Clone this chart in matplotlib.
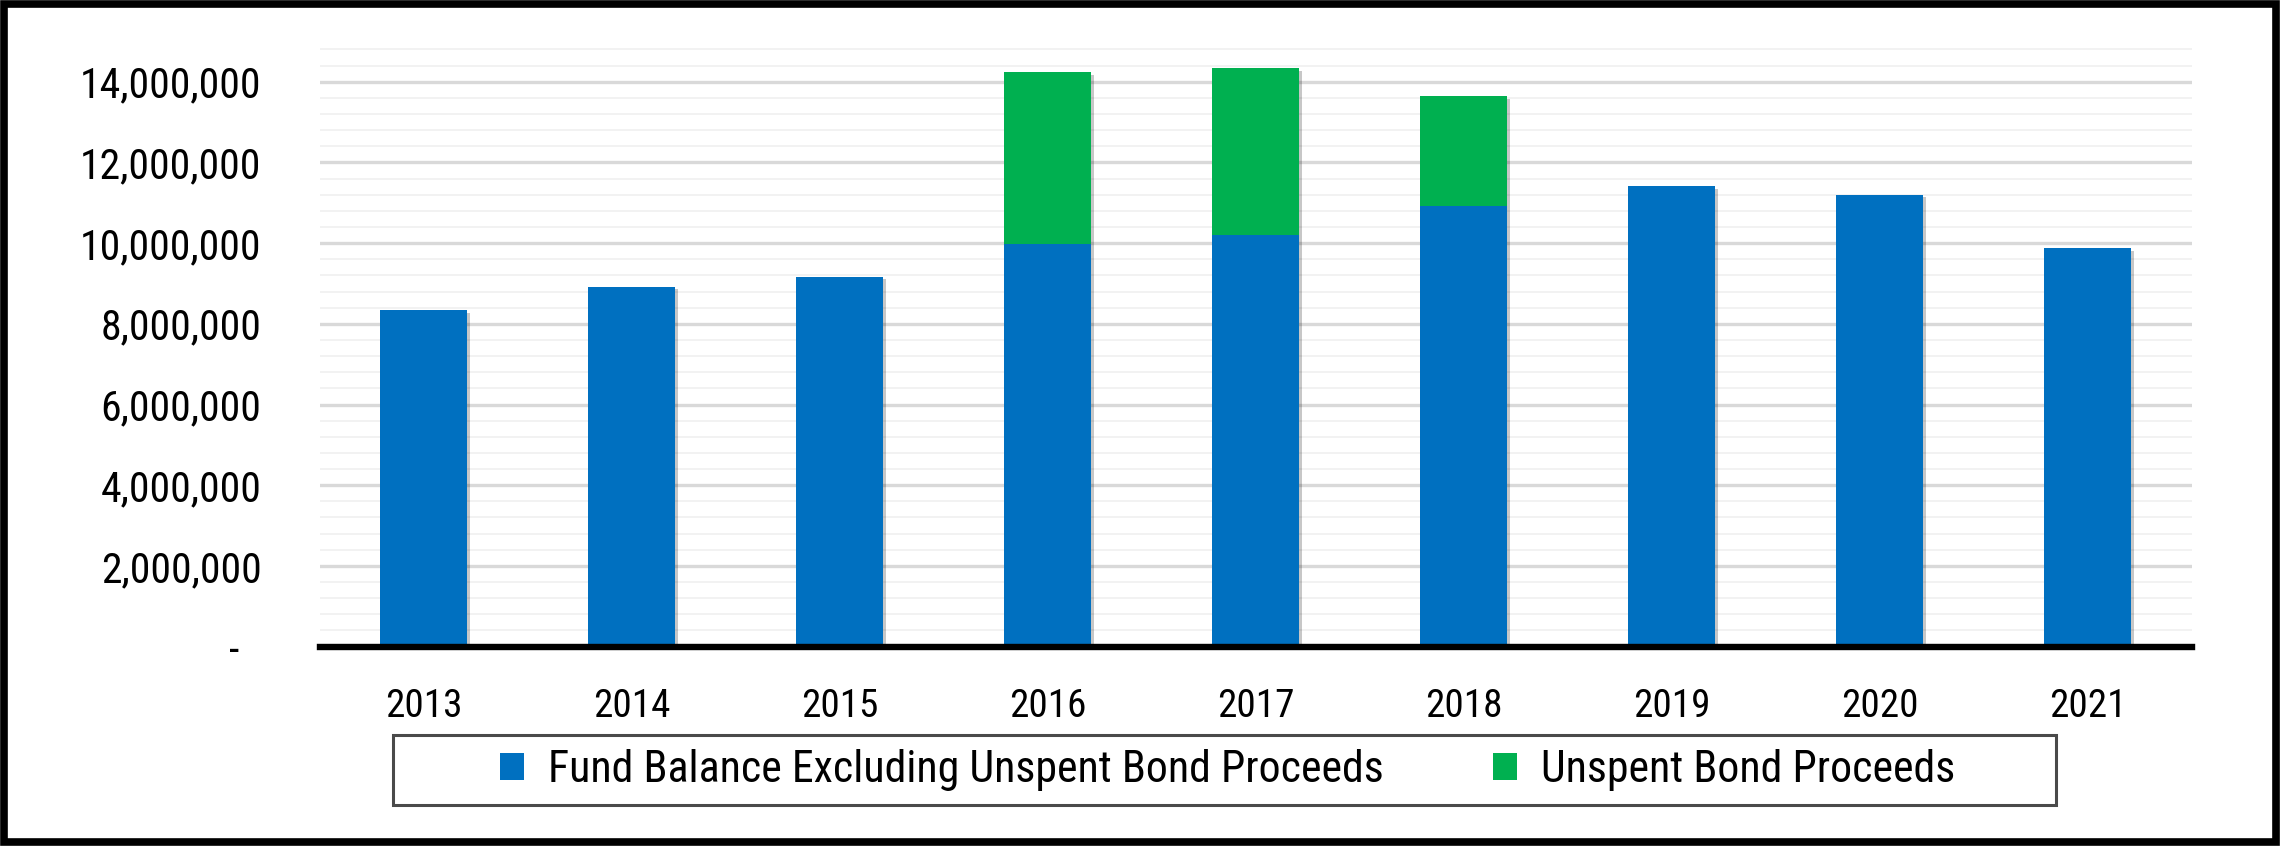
import matplotlib
matplotlib.use('Agg')
import matplotlib.pyplot as plt
from matplotlib import font_manager
from matplotlib.font_manager import FontProperties
from matplotlib.textpath import TextPath
from matplotlib.patches import Rectangle, Patch
from matplotlib.transforms import ScaledTranslation
import matplotlib.patheffects as pe
import numpy as np

# ---------------- data ----------------
years = ['2013', '2014', '2015', '2016', '2017', '2018', '2019', '2020', '2021']
fund_balance = [8.34e6, 8.92e6, 9.17e6, 9.97e6, 10.20e6, 10.92e6, 11.41e6, 11.20e6, 9.87e6]
unspent_bond = [0, 0, 0, 4.26e6, 4.14e6, 2.72e6, 0, 0, 0]
y_ticks = [0, 2e6, 4e6, 6e6, 8e6, 10e6, 12e6, 14e6]
y_tick_labels = ['-', '2,000,000', '4,000,000', '6,000,000', '8,000,000',
                 '10,000,000', '12,000,000', '14,000,000']
series_names = ['Fund Balance Excluding Unspent Bond Proceeds', 'Unspent Bond Proceeds']
colors = ['#0070C0', '#00B050']


# ---------------- fonts: prefer a condensed sans ----------------
def pick_font():
    fl = font_manager.fontManager.ttflist

    def regular(f):
        w = f.weight
        ok_w = (w in (400, 'normal', 'regular', 'book')) if not isinstance(w, int) else w == 400
        return f.style == 'normal' and ok_w and 'CJK' not in f.name

    tests = [
        lambda f: f.name == 'Liberation Sans Narrow',
        lambda f: f.name == 'Roboto Condensed',
        lambda f: 'Open Sans' in f.name and ('Condensed' in f.name or f.stretch == 'condensed'),
        lambda f: f.name == 'DejaVu Sans' and f.stretch in ('condensed', 'semi-condensed'),
        lambda f: ('Narrow' in f.name or 'Condensed' in f.name),
        lambda f: f.stretch in ('condensed', 'semi-condensed', 'extra-condensed'),
        lambda f: 'Condensed' in f.fname or 'Narrow' in f.fname,
    ]
    for t in tests:
        c = [f for f in fl if regular(f) and t(f)]
        if c:
            return c[0].fname
    return None


fname = pick_font()
if fname:
    base_fp = FontProperties(fname=fname)
else:
    base_fp = FontProperties(family='DejaVu Sans')


def sized(text, width_px, height_px):
    ext = TextPath((0, 0), text, size=1, prop=base_fp).get_extents()
    s_w = width_px / (ext.width * 100 / 72)
    s_h = height_px / (ext.height * 100 / 72)
    fp = base_fp.copy()
    fp.set_size(min(s_w, s_h))
    return fp


fp_y = sized('14,000,000', 187, 36)
fp_x = sized('2013', 73, 31)
fp_leg = sized('Unspent Bond Proceeds', 410, 44)

W, H = 2280, 846
fig = plt.figure(figsize=(W / 100, H / 100), dpi=100)
fig.patch.set_facecolor('white')

left, right = 319.8 / W, 2191.8 / W
bottom, top = (H - 646.6) / H, (H - 41.4) / H
ax = fig.add_axes([left, bottom, right - left, top - bottom])

x = np.arange(len(years))
shadow = [pe.SimplePatchShadow(offset=(2, -2), shadow_rgbFace='black', alpha=0.22), pe.Normal()]
b1 = ax.bar(x, fund_balance, width=0.42, color=colors[0], zorder=4)
b2 = ax.bar(x, unspent_bond, bottom=fund_balance, width=0.42, color=colors[1], zorder=3)
for r in list(b1) + list(b2):
    if r.get_height() > 0:
        r.set_path_effects(shadow)

ax.set_xlim(-0.5, len(years) - 0.5)
ax.set_ylim(0, 15e6)
ax.set_xticks(x)
ax.set_xticklabels(years)
ax.set_yticks(y_ticks)
ax.set_yticklabels(y_tick_labels)
ax.set_yticks(np.arange(0, 15e6, 0.4e6), minor=True)
ax.tick_params(axis='y', which='both', length=0, pad=42)
ax.tick_params(axis='x', length=0, pad=30)
for lbl in ax.get_xticklabels():
    lbl.set_fontproperties(fp_x)
for lbl in ax.get_yticklabels():
    lbl.set_fontproperties(fp_y)
# accounting-style dash sits left of the digit column
zero_lbl = ax.yaxis.get_major_ticks()[0].label1
zero_lbl.set_transform(zero_lbl.get_transform() + ScaledTranslation(-0.22, 0, fig.dpi_scale_trans))

ax.grid(axis='y', which='major', color='#D9D9D9', linewidth=2.4, zorder=1)
ax.grid(axis='y', which='minor', color='#F0F0F0', linewidth=1.2, zorder=0)
ax.set_axisbelow(True)
for s in ['left', 'right', 'top']:
    ax.spines[s].set_visible(False)
ax.spines['bottom'].set_color('black')
ax.spines['bottom'].set_linewidth(4.6)
ax.spines['bottom'].set_zorder(5)

# ---------------- legend ----------------
fig.patches.append(Rectangle((393 / W, (H - 805) / H), (2056 - 393) / W, 70 / H,
                             transform=fig.transFigure, fill=False,
                             edgecolor='#4A4A4A', linewidth=2.2))
leg_y = (H - 770) / H
fs = fp_leg.get_size_in_points()
hl = 17.3 / fs
tp = 17.3 / fs
for i, xpos in enumerate([500, 1493]):
    fig.legend(handles=[Patch(facecolor=colors[i], edgecolor='none')],
               labels=[series_names[i]], loc='center left',
               bbox_to_anchor=(xpos / W, leg_y), frameon=False,
               prop=fp_leg, handlelength=hl, handleheight=hl,
               handletextpad=tp, borderpad=0, borderaxespad=0)

# ---------------- outer frame ----------------
fig.patches.append(Rectangle((3.8 / W, 3.8 / H), 1 - 7.6 / W, 1 - 7.6 / H,
                             transform=fig.transFigure, fill=False,
                             edgecolor='black', linewidth=5.5))

fig.savefig('out.png', dpi=100)
